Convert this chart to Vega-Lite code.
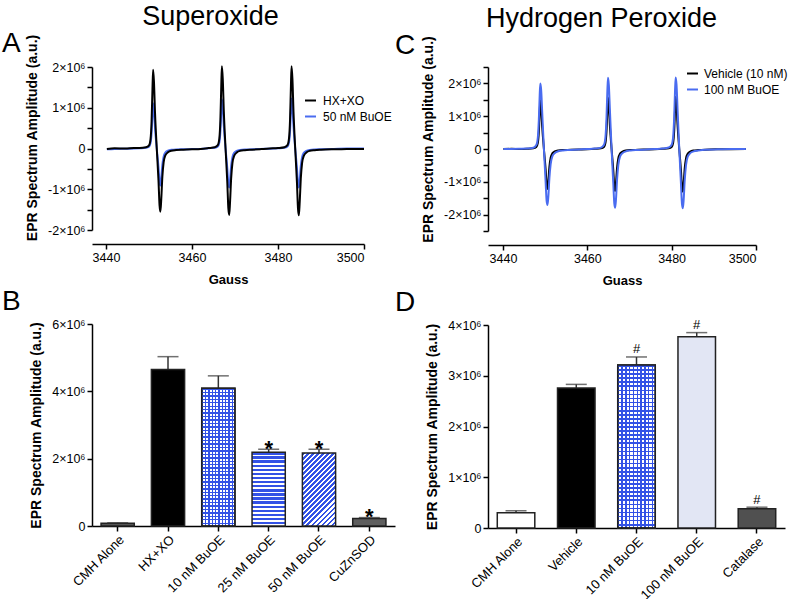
{
"$schema": "https://vega.github.io/schema/vega-lite/v6.json",
"padding": {"left": 2, "top": 3, "right": 0, "bottom": 0},
"datasets": {
"specA": [
{"series":"HX+XO","gauss":3440.2,"amp":-10000},{"series":"HX+XO","gauss":3442,"amp":5000},{"series":"HX+XO","gauss":3444.5,"amp":0},{"series":"HX+XO","gauss":3446.5,"amp":10000},
{"series":"HX+XO","gauss":3447.8,"amp":10000},{"series":"HX+XO","gauss":3449.3,"amp":29000},{"series":"HX+XO","gauss":3450.0,"amp":77000},{"series":"HX+XO","gauss":3450.35,"amp":232000},{"series":"HX+XO","gauss":3450.6,"amp":676000},{"series":"HX+XO","gauss":3450.8,"amp":1448000},{"series":"HX+XO","gauss":3450.95,"amp":1930000},{"series":"HX+XO","gauss":3451.15,"amp":1641000},{"series":"HX+XO","gauss":3451.4,"amp":869000},{"series":"HX+XO","gauss":3451.8,"amp":0},{"series":"HX+XO","gauss":3452.2,"amp":-775000},{"series":"HX+XO","gauss":3452.45,"amp":-1395000},{"series":"HX+XO","gauss":3452.65,"amp":-1550000},{"series":"HX+XO","gauss":3452.85,"amp":-1240000},{"series":"HX+XO","gauss":3453.1,"amp":-698000},{"series":"HX+XO","gauss":3453.4,"amp":-341000},{"series":"HX+XO","gauss":3453.8,"amp":-171000},{"series":"HX+XO","gauss":3454.4,"amp":-93000},{"series":"HX+XO","gauss":3455.2,"amp":-54000},{"series":"HX+XO","gauss":3456.3,"amp":-39000},
{"series":"HX+XO","gauss":3458,"amp":-30000},{"series":"HX+XO","gauss":3460,"amp":-20000},{"series":"HX+XO","gauss":3462,"amp":-10000},
{"series":"HX+XO","gauss":3463.8,"amp":10000},{"series":"HX+XO","gauss":3465.3,"amp":30000},{"series":"HX+XO","gauss":3466.0,"amp":81000},{"series":"HX+XO","gauss":3466.35,"amp":242000},{"series":"HX+XO","gauss":3466.6,"amp":707000},{"series":"HX+XO","gauss":3466.8,"amp":1515000},{"series":"HX+XO","gauss":3466.95,"amp":2020000},{"series":"HX+XO","gauss":3467.15,"amp":1717000},{"series":"HX+XO","gauss":3467.4,"amp":909000},{"series":"HX+XO","gauss":3467.8,"amp":0},{"series":"HX+XO","gauss":3468.2,"amp":-815000},{"series":"HX+XO","gauss":3468.45,"amp":-1467000},{"series":"HX+XO","gauss":3468.65,"amp":-1630000},{"series":"HX+XO","gauss":3468.85,"amp":-1304000},{"series":"HX+XO","gauss":3469.1,"amp":-734000},{"series":"HX+XO","gauss":3469.4,"amp":-359000},{"series":"HX+XO","gauss":3469.8,"amp":-179000},{"series":"HX+XO","gauss":3470.4,"amp":-98000},{"series":"HX+XO","gauss":3471.2,"amp":-57000},{"series":"HX+XO","gauss":3472.3,"amp":-41000},
{"series":"HX+XO","gauss":3474,"amp":-30000},{"series":"HX+XO","gauss":3476,"amp":-15000},{"series":"HX+XO","gauss":3478,"amp":0},
{"series":"HX+XO","gauss":3480.0,"amp":10000},{"series":"HX+XO","gauss":3481.5,"amp":30000},{"series":"HX+XO","gauss":3482.2,"amp":81000},{"series":"HX+XO","gauss":3482.55,"amp":242000},{"series":"HX+XO","gauss":3482.8,"amp":707000},{"series":"HX+XO","gauss":3483.0,"amp":1515000},{"series":"HX+XO","gauss":3483.15,"amp":2020000},{"series":"HX+XO","gauss":3483.35,"amp":1717000},{"series":"HX+XO","gauss":3483.6,"amp":909000},{"series":"HX+XO","gauss":3484.0,"amp":0},{"series":"HX+XO","gauss":3484.4,"amp":-820000},{"series":"HX+XO","gauss":3484.65,"amp":-1476000},{"series":"HX+XO","gauss":3484.85,"amp":-1640000},{"series":"HX+XO","gauss":3485.05,"amp":-1312000},{"series":"HX+XO","gauss":3485.3,"amp":-738000},{"series":"HX+XO","gauss":3485.6,"amp":-361000},{"series":"HX+XO","gauss":3486.0,"amp":-180000},{"series":"HX+XO","gauss":3486.6,"amp":-98000},{"series":"HX+XO","gauss":3487.4,"amp":-57000},{"series":"HX+XO","gauss":3488.5,"amp":-41000},
{"series":"HX+XO","gauss":3490,"amp":-30000},{"series":"HX+XO","gauss":3493,"amp":-20000},{"series":"HX+XO","gauss":3496,"amp":-15000},{"series":"HX+XO","gauss":3500,"amp":-10000},
{"series":"50 nM BuOE","gauss":3440.2,"amp":-20000},{"series":"50 nM BuOE","gauss":3442,"amp":-10000},{"series":"50 nM BuOE","gauss":3444.5,"amp":-5000},{"series":"50 nM BuOE","gauss":3446.5,"amp":0},
{"series":"50 nM BuOE","gauss":3447.8,"amp":6000},{"series":"50 nM BuOE","gauss":3449.3,"amp":17000},{"series":"50 nM BuOE","gauss":3450.0,"amp":44000},{"series":"50 nM BuOE","gauss":3450.35,"amp":133000},{"series":"50 nM BuOE","gauss":3450.6,"amp":389000},{"series":"50 nM BuOE","gauss":3450.8,"amp":833000},{"series":"50 nM BuOE","gauss":3450.95,"amp":1110000},{"series":"50 nM BuOE","gauss":3451.15,"amp":944000},{"series":"50 nM BuOE","gauss":3451.4,"amp":500000},{"series":"50 nM BuOE","gauss":3451.8,"amp":0},{"series":"50 nM BuOE","gauss":3452.2,"amp":-455000},{"series":"50 nM BuOE","gauss":3452.45,"amp":-819000},{"series":"50 nM BuOE","gauss":3452.65,"amp":-910000},{"series":"50 nM BuOE","gauss":3452.85,"amp":-728000},{"series":"50 nM BuOE","gauss":3453.1,"amp":-410000},{"series":"50 nM BuOE","gauss":3453.4,"amp":-200000},{"series":"50 nM BuOE","gauss":3453.8,"amp":-100000},{"series":"50 nM BuOE","gauss":3454.4,"amp":-55000},{"series":"50 nM BuOE","gauss":3455.2,"amp":-32000},{"series":"50 nM BuOE","gauss":3456.3,"amp":-23000},
{"series":"50 nM BuOE","gauss":3458,"amp":-20000},{"series":"50 nM BuOE","gauss":3460,"amp":-15000},{"series":"50 nM BuOE","gauss":3462,"amp":-10000},
{"series":"50 nM BuOE","gauss":3463.8,"amp":6000},{"series":"50 nM BuOE","gauss":3465.3,"amp":18000},{"series":"50 nM BuOE","gauss":3466.0,"amp":48000},{"series":"50 nM BuOE","gauss":3466.35,"amp":145000},{"series":"50 nM BuOE","gauss":3466.6,"amp":424000},{"series":"50 nM BuOE","gauss":3466.8,"amp":908000},{"series":"50 nM BuOE","gauss":3466.95,"amp":1210000},{"series":"50 nM BuOE","gauss":3467.15,"amp":1029000},{"series":"50 nM BuOE","gauss":3467.4,"amp":545000},{"series":"50 nM BuOE","gauss":3467.8,"amp":0},{"series":"50 nM BuOE","gauss":3468.2,"amp":-480000},{"series":"50 nM BuOE","gauss":3468.45,"amp":-864000},{"series":"50 nM BuOE","gauss":3468.65,"amp":-960000},{"series":"50 nM BuOE","gauss":3468.85,"amp":-768000},{"series":"50 nM BuOE","gauss":3469.1,"amp":-432000},{"series":"50 nM BuOE","gauss":3469.4,"amp":-211000},{"series":"50 nM BuOE","gauss":3469.8,"amp":-106000},{"series":"50 nM BuOE","gauss":3470.4,"amp":-58000},{"series":"50 nM BuOE","gauss":3471.2,"amp":-34000},{"series":"50 nM BuOE","gauss":3472.3,"amp":-24000},
{"series":"50 nM BuOE","gauss":3474,"amp":-20000},{"series":"50 nM BuOE","gauss":3476,"amp":-10000},{"series":"50 nM BuOE","gauss":3478,"amp":-5000},
{"series":"50 nM BuOE","gauss":3480.0,"amp":6000},{"series":"50 nM BuOE","gauss":3481.5,"amp":18000},{"series":"50 nM BuOE","gauss":3482.2,"amp":49000},{"series":"50 nM BuOE","gauss":3482.55,"amp":148000},{"series":"50 nM BuOE","gauss":3482.8,"amp":431000},{"series":"50 nM BuOE","gauss":3483.0,"amp":923000},{"series":"50 nM BuOE","gauss":3483.15,"amp":1230000},{"series":"50 nM BuOE","gauss":3483.35,"amp":1046000},{"series":"50 nM BuOE","gauss":3483.6,"amp":554000},{"series":"50 nM BuOE","gauss":3484.0,"amp":0},{"series":"50 nM BuOE","gauss":3484.4,"amp":-480000},{"series":"50 nM BuOE","gauss":3484.65,"amp":-864000},{"series":"50 nM BuOE","gauss":3484.85,"amp":-960000},{"series":"50 nM BuOE","gauss":3485.05,"amp":-768000},{"series":"50 nM BuOE","gauss":3485.3,"amp":-432000},{"series":"50 nM BuOE","gauss":3485.6,"amp":-211000},{"series":"50 nM BuOE","gauss":3486.0,"amp":-106000},{"series":"50 nM BuOE","gauss":3486.6,"amp":-58000},{"series":"50 nM BuOE","gauss":3487.4,"amp":-34000},{"series":"50 nM BuOE","gauss":3488.5,"amp":-24000},
{"series":"50 nM BuOE","gauss":3490,"amp":-20000},{"series":"50 nM BuOE","gauss":3493,"amp":-10000},{"series":"50 nM BuOE","gauss":3496,"amp":0},{"series":"50 nM BuOE","gauss":3500,"amp":0}
],
"specC": [
{"series":"Vehicle (10 nM)","gauss":3440.1,"amp":0},{"series":"Vehicle (10 nM)","gauss":3442,"amp":5000},{"series":"Vehicle (10 nM)","gauss":3444,"amp":0},
{"series":"Vehicle (10 nM)","gauss":3445.7,"amp":7000},{"series":"Vehicle (10 nM)","gauss":3447.2,"amp":22000},{"series":"Vehicle (10 nM)","gauss":3447.9,"amp":60000},{"series":"Vehicle (10 nM)","gauss":3448.25,"amp":179000},{"series":"Vehicle (10 nM)","gauss":3448.5,"amp":522000},{"series":"Vehicle (10 nM)","gauss":3448.7,"amp":1118000},{"series":"Vehicle (10 nM)","gauss":3448.85,"amp":1490000},{"series":"Vehicle (10 nM)","gauss":3449.05,"amp":1267000},{"series":"Vehicle (10 nM)","gauss":3449.3,"amp":671000},{"series":"Vehicle (10 nM)","gauss":3449.7,"amp":0},{"series":"Vehicle (10 nM)","gauss":3450.1,"amp":-610000},{"series":"Vehicle (10 nM)","gauss":3450.35,"amp":-1098000},{"series":"Vehicle (10 nM)","gauss":3450.55,"amp":-1220000},{"series":"Vehicle (10 nM)","gauss":3450.75,"amp":-976000},{"series":"Vehicle (10 nM)","gauss":3451.0,"amp":-549000},{"series":"Vehicle (10 nM)","gauss":3451.3,"amp":-268000},{"series":"Vehicle (10 nM)","gauss":3451.7,"amp":-134000},{"series":"Vehicle (10 nM)","gauss":3452.3,"amp":-73000},{"series":"Vehicle (10 nM)","gauss":3453.1,"amp":-43000},{"series":"Vehicle (10 nM)","gauss":3454.2,"amp":-31000},
{"series":"Vehicle (10 nM)","gauss":3456,"amp":-25000},{"series":"Vehicle (10 nM)","gauss":3458,"amp":-15000},{"series":"Vehicle (10 nM)","gauss":3460,"amp":-5000},
{"series":"Vehicle (10 nM)","gauss":3461.75,"amp":8000},{"series":"Vehicle (10 nM)","gauss":3463.25,"amp":24000},{"series":"Vehicle (10 nM)","gauss":3463.95,"amp":63000},{"series":"Vehicle (10 nM)","gauss":3464.3,"amp":188000},{"series":"Vehicle (10 nM)","gauss":3464.55,"amp":550000},{"series":"Vehicle (10 nM)","gauss":3464.75,"amp":1178000},{"series":"Vehicle (10 nM)","gauss":3464.9,"amp":1570000},{"series":"Vehicle (10 nM)","gauss":3465.1,"amp":1335000},{"series":"Vehicle (10 nM)","gauss":3465.35,"amp":707000},{"series":"Vehicle (10 nM)","gauss":3465.75,"amp":0},{"series":"Vehicle (10 nM)","gauss":3466.15,"amp":-640000},{"series":"Vehicle (10 nM)","gauss":3466.4,"amp":-1152000},{"series":"Vehicle (10 nM)","gauss":3466.6,"amp":-1280000},{"series":"Vehicle (10 nM)","gauss":3466.8,"amp":-1024000},{"series":"Vehicle (10 nM)","gauss":3467.05,"amp":-576000},{"series":"Vehicle (10 nM)","gauss":3467.35,"amp":-282000},{"series":"Vehicle (10 nM)","gauss":3467.75,"amp":-141000},{"series":"Vehicle (10 nM)","gauss":3468.35,"amp":-77000},{"series":"Vehicle (10 nM)","gauss":3469.15,"amp":-45000},{"series":"Vehicle (10 nM)","gauss":3470.25,"amp":-32000},
{"series":"Vehicle (10 nM)","gauss":3472,"amp":-25000},{"series":"Vehicle (10 nM)","gauss":3474,"amp":-15000},{"series":"Vehicle (10 nM)","gauss":3476,"amp":-5000},
{"series":"Vehicle (10 nM)","gauss":3477.8,"amp":8000},{"series":"Vehicle (10 nM)","gauss":3479.3,"amp":24000},{"series":"Vehicle (10 nM)","gauss":3480.0,"amp":64000},{"series":"Vehicle (10 nM)","gauss":3480.35,"amp":191000},{"series":"Vehicle (10 nM)","gauss":3480.6,"amp":557000},{"series":"Vehicle (10 nM)","gauss":3480.8,"amp":1193000},{"series":"Vehicle (10 nM)","gauss":3480.95,"amp":1590000},{"series":"Vehicle (10 nM)","gauss":3481.15,"amp":1352000},{"series":"Vehicle (10 nM)","gauss":3481.4,"amp":716000},{"series":"Vehicle (10 nM)","gauss":3481.8,"amp":0},{"series":"Vehicle (10 nM)","gauss":3482.2,"amp":-650000},{"series":"Vehicle (10 nM)","gauss":3482.45,"amp":-1170000},{"series":"Vehicle (10 nM)","gauss":3482.65,"amp":-1300000},{"series":"Vehicle (10 nM)","gauss":3482.85,"amp":-1040000},{"series":"Vehicle (10 nM)","gauss":3483.1,"amp":-585000},{"series":"Vehicle (10 nM)","gauss":3483.4,"amp":-286000},{"series":"Vehicle (10 nM)","gauss":3483.8,"amp":-143000},{"series":"Vehicle (10 nM)","gauss":3484.4,"amp":-78000},{"series":"Vehicle (10 nM)","gauss":3485.2,"amp":-46000},{"series":"Vehicle (10 nM)","gauss":3486.3,"amp":-33000},
{"series":"Vehicle (10 nM)","gauss":3488,"amp":-20000},{"series":"Vehicle (10 nM)","gauss":3491,"amp":-10000},{"series":"Vehicle (10 nM)","gauss":3494,"amp":-5000},{"series":"Vehicle (10 nM)","gauss":3497.6,"amp":0},
{"series":"100 nM BuOE","gauss":3440.1,"amp":0},{"series":"100 nM BuOE","gauss":3442,"amp":0},{"series":"100 nM BuOE","gauss":3444,"amp":5000},
{"series":"100 nM BuOE","gauss":3445.7,"amp":12000},{"series":"100 nM BuOE","gauss":3447.2,"amp":40000},{"series":"100 nM BuOE","gauss":3447.9,"amp":120000},{"series":"100 nM BuOE","gauss":3448.25,"amp":340000},{"series":"100 nM BuOE","gauss":3448.5,"amp":900000},{"series":"100 nM BuOE","gauss":3448.7,"amp":1640000},{"series":"100 nM BuOE","gauss":3448.85,"amp":2000000},{"series":"100 nM BuOE","gauss":3449.05,"amp":1800000},{"series":"100 nM BuOE","gauss":3449.3,"amp":1100000},{"series":"100 nM BuOE","gauss":3449.7,"amp":0},{"series":"100 nM BuOE","gauss":3450.1,"amp":-992000},{"series":"100 nM BuOE","gauss":3450.35,"amp":-1590000},{"series":"100 nM BuOE","gauss":3450.55,"amp":-1710000},{"series":"100 nM BuOE","gauss":3450.75,"amp":-1454000},{"series":"100 nM BuOE","gauss":3451.0,"amp":-889000},{"series":"100 nM BuOE","gauss":3451.3,"amp":-462000},{"series":"100 nM BuOE","gauss":3451.7,"amp":-222000},{"series":"100 nM BuOE","gauss":3452.3,"amp":-120000},{"series":"100 nM BuOE","gauss":3453.1,"amp":-68000},{"series":"100 nM BuOE","gauss":3454.2,"amp":-43000},
{"series":"100 nM BuOE","gauss":3456,"amp":-30000},{"series":"100 nM BuOE","gauss":3458,"amp":-15000},{"series":"100 nM BuOE","gauss":3460,"amp":0},
{"series":"100 nM BuOE","gauss":3461.75,"amp":13000},{"series":"100 nM BuOE","gauss":3463.25,"amp":43000},{"series":"100 nM BuOE","gauss":3463.95,"amp":130000},{"series":"100 nM BuOE","gauss":3464.3,"amp":369000},{"series":"100 nM BuOE","gauss":3464.55,"amp":977000},{"series":"100 nM BuOE","gauss":3464.75,"amp":1779000},{"series":"100 nM BuOE","gauss":3464.9,"amp":2170000},{"series":"100 nM BuOE","gauss":3465.1,"amp":1953000},{"series":"100 nM BuOE","gauss":3465.35,"amp":1194000},{"series":"100 nM BuOE","gauss":3465.75,"amp":0},{"series":"100 nM BuOE","gauss":3466.15,"amp":-1038000},{"series":"100 nM BuOE","gauss":3466.4,"amp":-1665000},{"series":"100 nM BuOE","gauss":3466.6,"amp":-1790000},{"series":"100 nM BuOE","gauss":3466.8,"amp":-1522000},{"series":"100 nM BuOE","gauss":3467.05,"amp":-931000},{"series":"100 nM BuOE","gauss":3467.35,"amp":-483000},{"series":"100 nM BuOE","gauss":3467.75,"amp":-233000},{"series":"100 nM BuOE","gauss":3468.35,"amp":-125000},{"series":"100 nM BuOE","gauss":3469.15,"amp":-72000},{"series":"100 nM BuOE","gauss":3470.25,"amp":-45000},
{"series":"100 nM BuOE","gauss":3472,"amp":-30000},{"series":"100 nM BuOE","gauss":3474,"amp":-15000},{"series":"100 nM BuOE","gauss":3476,"amp":0},
{"series":"100 nM BuOE","gauss":3477.8,"amp":13000},{"series":"100 nM BuOE","gauss":3479.3,"amp":44000},{"series":"100 nM BuOE","gauss":3480.0,"amp":131000},{"series":"100 nM BuOE","gauss":3480.35,"amp":371000},{"series":"100 nM BuOE","gauss":3480.6,"amp":981000},{"series":"100 nM BuOE","gauss":3480.8,"amp":1788000},{"series":"100 nM BuOE","gauss":3480.95,"amp":2180000},{"series":"100 nM BuOE","gauss":3481.15,"amp":1962000},{"series":"100 nM BuOE","gauss":3481.4,"amp":1199000},{"series":"100 nM BuOE","gauss":3481.8,"amp":0},{"series":"100 nM BuOE","gauss":3482.2,"amp":-1050000},{"series":"100 nM BuOE","gauss":3482.45,"amp":-1683000},{"series":"100 nM BuOE","gauss":3482.65,"amp":-1810000},{"series":"100 nM BuOE","gauss":3482.85,"amp":-1539000},{"series":"100 nM BuOE","gauss":3483.1,"amp":-941000},{"series":"100 nM BuOE","gauss":3483.4,"amp":-489000},{"series":"100 nM BuOE","gauss":3483.8,"amp":-235000},{"series":"100 nM BuOE","gauss":3484.4,"amp":-127000},{"series":"100 nM BuOE","gauss":3485.2,"amp":-72000},{"series":"100 nM BuOE","gauss":3486.3,"amp":-45000},
{"series":"100 nM BuOE","gauss":3488,"amp":-20000},{"series":"100 nM BuOE","gauss":3491,"amp":-10000},{"series":"100 nM BuOE","gauss":3494,"amp":0},{"series":"100 nM BuOE","gauss":3497.6,"amp":0}
],
"barsB": [
{"cond":"CMH Alone","mean":80000,"upper":95000,"sig":null},
{"cond":"HX+XO","mean":4650000,"upper":5030000,"sig":null},
{"cond":"10 nM BuOE","mean":4090000,"upper":4460000,"sig":null},
{"cond":"25 nM BuOE","mean":2190000,"upper":2280000,"sig":"*"},
{"cond":"50 nM BuOE","mean":2170000,"upper":2280000,"sig":"*"},
{"cond":"CuZnSOD","mean":220000,"upper":250000,"sig":"*"}
],
"barsD": [
{"cond":"CMH Alone","mean":300000,"upper":340000,"sig":null},
{"cond":"Vehicle","mean":2760000,"upper":2830000,"sig":null},
{"cond":"10 nM BuOE","mean":3210000,"upper":3370000,"sig":"#"},
{"cond":"100 nM BuOE","mean":3770000,"upper":3850000,"sig":"#"},
{"cond":"Catalase","mean":380000,"upper":410000,"sig":"#"}
]
},
"hconcat": [
{
"title": {"text": "Superoxide", "fontSize": 27, "anchor": "middle", "offset": -1, "dx": 12},
"spacing": 1,
"vconcat": [
{
"width": 272, "height": 163,
"title": {"text": "A", "anchor": "start", "frame": "group", "dx": -90, "fontSize": 28, "offset": -24},
"data": {"name": "specA"},
"encoding": {
"x": {"field": "gauss", "type": "quantitative", "scale": {"domain": [3436.74, 3500], "nice": false, "zero": false}, "axis": {"title": "Gauss", "values": [3440, 3460, 3480, 3500], "format": "d", "offset": 14, "titleFontSize": 13, "titlePadding": 10}},
"y": {"field": "amp", "type": "quantitative", "scale": {"domain": [-2000000, 2000000], "nice": false}, "axis": {"title": "EPR Spectrum Amplitude (a.u.)", "titleY": 70.5, "values": [-2000000,-1500000,-1000000,-500000,0,500000,1000000,1500000,2000000], "labelExpr": "datum.value == 0 ? '0' : (datum.value % 1000000 != 0 ? '' : (datum.value / 1000000) + '×10⁶')", "titlePadding": 8}},
"color": {"field": "series", "type": "nominal", "scale": {"domain": ["HX+XO", "50 nM BuOE"], "range": ["#000000", "#4a6cf0"]}, "legend": {"title": null, "orient": "none", "legendX": 212, "legendY": 27}}
},
"layer": [
{"transform": [{"filter": "datum.series == '50 nM BuOE'"}], "mark": {"type": "line", "interpolate": "monotone", "strokeWidth": 2}},
{"transform": [{"filter": "datum.series == 'HX+XO'"}], "mark": {"type": "line", "interpolate": "monotone", "strokeWidth": 2}}
]
},
{
"width": 303, "height": 202,
"title": {"text": "B", "anchor": "start", "frame": "group", "dx": -90, "fontSize": 28, "offset": 2},
"data": {"name": "barsB"},
"encoding": {
"x": {"field": "cond", "type": "nominal", "sort": null, "scale": {"paddingInner": 0.34, "paddingOuter": 0.18}, "axis": {"title": null, "labelAngle": -45, "labelFontSize": 13}}
},
"layer": [
{"mark": {"type": "rule", "strokeWidth": 1.5, "color": "#333333"}, "encoding": {"y": {"field": "mean", "type": "quantitative", "title": "EPR Spectrum Amplitude (a.u.)"}, "y2": {"field": "upper"}}},
{"mark": {"type": "bar", "stroke": "#222222", "strokeWidth": 1.5}, "encoding": {
"y": {"field": "mean", "type": "quantitative", "title": "EPR Spectrum Amplitude (a.u.)", "scale": {"domain": [0, 6000000], "nice": false}, "axis": {"values": [0,1000000,2000000,3000000,4000000,5000000,6000000], "labelExpr": "datum.value == 0 ? '0' : (datum.value / 1000000) + '×10⁶'", "titlePadding": 8}},
"fill": {
"condition": [
{"test": "datum.cond == '10 nM BuOE'", "value": {"gradient": "linear", "x1": 0, "y1": 0, "x2": 1, "y2": 0, "stops": [
{"offset":0,"color":"#3352e6"},{"offset":0.04,"color":"#3352e6"},{"offset":0.04,"color":"#ffffff"},{"offset":0.1,"color":"#ffffff"},
{"offset":0.1,"color":"#3352e6"},{"offset":0.14,"color":"#3352e6"},{"offset":0.14,"color":"#ffffff"},{"offset":0.2,"color":"#ffffff"},
{"offset":0.2,"color":"#3352e6"},{"offset":0.24,"color":"#3352e6"},{"offset":0.24,"color":"#ffffff"},{"offset":0.3,"color":"#ffffff"},
{"offset":0.3,"color":"#3352e6"},{"offset":0.34,"color":"#3352e6"},{"offset":0.34,"color":"#ffffff"},{"offset":0.4,"color":"#ffffff"},
{"offset":0.4,"color":"#3352e6"},{"offset":0.44,"color":"#3352e6"},{"offset":0.44,"color":"#ffffff"},{"offset":0.5,"color":"#ffffff"},
{"offset":0.5,"color":"#3352e6"},{"offset":0.54,"color":"#3352e6"},{"offset":0.54,"color":"#ffffff"},{"offset":0.6,"color":"#ffffff"},
{"offset":0.6,"color":"#3352e6"},{"offset":0.64,"color":"#3352e6"},{"offset":0.64,"color":"#ffffff"},{"offset":0.7,"color":"#ffffff"},
{"offset":0.7,"color":"#3352e6"},{"offset":0.74,"color":"#3352e6"},{"offset":0.74,"color":"#ffffff"},{"offset":0.8,"color":"#ffffff"},
{"offset":0.8,"color":"#3352e6"},{"offset":0.84,"color":"#3352e6"},{"offset":0.84,"color":"#ffffff"},{"offset":0.9,"color":"#ffffff"},
{"offset":0.9,"color":"#3352e6"},{"offset":0.94,"color":"#3352e6"},{"offset":0.94,"color":"#ffffff"},{"offset":1,"color":"#ffffff"}]}},
{"test": "datum.cond == '25 nM BuOE'", "value": {"gradient": "linear", "x1": 0, "y1": 0, "x2": 0, "y2": 1, "stops": [
{"offset":0,"color":"#3352e6"},{"offset":0.0333,"color":"#3352e6"},{"offset":0.0333,"color":"#ffffff"},{"offset":0.0556,"color":"#ffffff"},
{"offset":0.0556,"color":"#3352e6"},{"offset":0.0889,"color":"#3352e6"},{"offset":0.0889,"color":"#ffffff"},{"offset":0.1111,"color":"#ffffff"},
{"offset":0.1111,"color":"#3352e6"},{"offset":0.1444,"color":"#3352e6"},{"offset":0.1444,"color":"#ffffff"},{"offset":0.1667,"color":"#ffffff"},
{"offset":0.1667,"color":"#3352e6"},{"offset":0.2,"color":"#3352e6"},{"offset":0.2,"color":"#ffffff"},{"offset":0.2222,"color":"#ffffff"},
{"offset":0.2222,"color":"#3352e6"},{"offset":0.2556,"color":"#3352e6"},{"offset":0.2556,"color":"#ffffff"},{"offset":0.2778,"color":"#ffffff"},
{"offset":0.2778,"color":"#3352e6"},{"offset":0.3111,"color":"#3352e6"},{"offset":0.3111,"color":"#ffffff"},{"offset":0.3333,"color":"#ffffff"},
{"offset":0.3333,"color":"#3352e6"},{"offset":0.3667,"color":"#3352e6"},{"offset":0.3667,"color":"#ffffff"},{"offset":0.3889,"color":"#ffffff"},
{"offset":0.3889,"color":"#3352e6"},{"offset":0.4222,"color":"#3352e6"},{"offset":0.4222,"color":"#ffffff"},{"offset":0.4444,"color":"#ffffff"},
{"offset":0.4444,"color":"#3352e6"},{"offset":0.4778,"color":"#3352e6"},{"offset":0.4778,"color":"#ffffff"},{"offset":0.5,"color":"#ffffff"},
{"offset":0.5,"color":"#3352e6"},{"offset":0.5333,"color":"#3352e6"},{"offset":0.5333,"color":"#ffffff"},{"offset":0.5556,"color":"#ffffff"},
{"offset":0.5556,"color":"#3352e6"},{"offset":0.5889,"color":"#3352e6"},{"offset":0.5889,"color":"#ffffff"},{"offset":0.6111,"color":"#ffffff"},
{"offset":0.6111,"color":"#3352e6"},{"offset":0.6444,"color":"#3352e6"},{"offset":0.6444,"color":"#ffffff"},{"offset":0.6667,"color":"#ffffff"},
{"offset":0.6667,"color":"#3352e6"},{"offset":0.7,"color":"#3352e6"},{"offset":0.7,"color":"#ffffff"},{"offset":0.7222,"color":"#ffffff"},
{"offset":0.7222,"color":"#3352e6"},{"offset":0.7556,"color":"#3352e6"},{"offset":0.7556,"color":"#ffffff"},{"offset":0.7778,"color":"#ffffff"},
{"offset":0.7778,"color":"#3352e6"},{"offset":0.8111,"color":"#3352e6"},{"offset":0.8111,"color":"#ffffff"},{"offset":0.8333,"color":"#ffffff"},
{"offset":0.8333,"color":"#3352e6"},{"offset":0.8667,"color":"#3352e6"},{"offset":0.8667,"color":"#ffffff"},{"offset":0.8889,"color":"#ffffff"},
{"offset":0.8889,"color":"#3352e6"},{"offset":0.9222,"color":"#3352e6"},{"offset":0.9222,"color":"#ffffff"},{"offset":0.9444,"color":"#ffffff"},
{"offset":0.9444,"color":"#3352e6"},{"offset":0.9778,"color":"#3352e6"},{"offset":0.9778,"color":"#ffffff"},{"offset":1,"color":"#ffffff"}]}},
{"test": "datum.cond == '50 nM BuOE'", "value": {"gradient": "linear", "x1": 0, "y1": 0, "x2": 1, "y2": 2.2, "stops": [
{"offset":0,"color":"#3352e6"},{"offset":0.0143,"color":"#3352e6"},{"offset":0.0143,"color":"#ffffff"},{"offset":0.026,"color":"#ffffff"},
{"offset":0.026,"color":"#3352e6"},{"offset":0.0403,"color":"#3352e6"},{"offset":0.0403,"color":"#ffffff"},{"offset":0.052,"color":"#ffffff"},
{"offset":0.052,"color":"#3352e6"},{"offset":0.0663,"color":"#3352e6"},{"offset":0.0663,"color":"#ffffff"},{"offset":0.078,"color":"#ffffff"},
{"offset":0.078,"color":"#3352e6"},{"offset":0.0923,"color":"#3352e6"},{"offset":0.0923,"color":"#ffffff"},{"offset":0.104,"color":"#ffffff"},
{"offset":0.104,"color":"#3352e6"},{"offset":0.1183,"color":"#3352e6"},{"offset":0.1183,"color":"#ffffff"},{"offset":0.13,"color":"#ffffff"},
{"offset":0.13,"color":"#3352e6"},{"offset":0.1443,"color":"#3352e6"},{"offset":0.1443,"color":"#ffffff"},{"offset":0.156,"color":"#ffffff"},
{"offset":0.156,"color":"#3352e6"},{"offset":0.1703,"color":"#3352e6"},{"offset":0.1703,"color":"#ffffff"},{"offset":0.182,"color":"#ffffff"},
{"offset":0.182,"color":"#3352e6"},{"offset":0.1963,"color":"#3352e6"},{"offset":0.1963,"color":"#ffffff"},{"offset":0.208,"color":"#ffffff"},
{"offset":0.208,"color":"#3352e6"},{"offset":0.2223,"color":"#3352e6"},{"offset":0.2223,"color":"#ffffff"},{"offset":0.234,"color":"#ffffff"},
{"offset":0.234,"color":"#3352e6"},{"offset":0.2483,"color":"#3352e6"},{"offset":0.2483,"color":"#ffffff"},{"offset":0.26,"color":"#ffffff"},
{"offset":0.26,"color":"#3352e6"},{"offset":0.2743,"color":"#3352e6"},{"offset":0.2743,"color":"#ffffff"},{"offset":0.286,"color":"#ffffff"},
{"offset":0.286,"color":"#3352e6"},{"offset":0.3003,"color":"#3352e6"},{"offset":0.3003,"color":"#ffffff"},{"offset":0.312,"color":"#ffffff"},
{"offset":0.312,"color":"#3352e6"},{"offset":0.3263,"color":"#3352e6"},{"offset":0.3263,"color":"#ffffff"},{"offset":0.338,"color":"#ffffff"},
{"offset":0.338,"color":"#3352e6"},{"offset":0.3523,"color":"#3352e6"},{"offset":0.3523,"color":"#ffffff"},{"offset":0.364,"color":"#ffffff"},
{"offset":0.364,"color":"#3352e6"},{"offset":0.3783,"color":"#3352e6"},{"offset":0.3783,"color":"#ffffff"},{"offset":0.39,"color":"#ffffff"},
{"offset":0.39,"color":"#3352e6"},{"offset":0.4043,"color":"#3352e6"},{"offset":0.4043,"color":"#ffffff"},{"offset":0.416,"color":"#ffffff"},
{"offset":0.416,"color":"#3352e6"},{"offset":0.4303,"color":"#3352e6"},{"offset":0.4303,"color":"#ffffff"},{"offset":0.442,"color":"#ffffff"},
{"offset":0.442,"color":"#3352e6"},{"offset":0.4563,"color":"#3352e6"},{"offset":0.4563,"color":"#ffffff"},{"offset":0.468,"color":"#ffffff"},
{"offset":0.468,"color":"#3352e6"},{"offset":0.4823,"color":"#3352e6"},{"offset":0.4823,"color":"#ffffff"},{"offset":0.494,"color":"#ffffff"},
{"offset":0.494,"color":"#3352e6"},{"offset":0.5083,"color":"#3352e6"},{"offset":0.5083,"color":"#ffffff"},{"offset":0.52,"color":"#ffffff"},
{"offset":0.52,"color":"#3352e6"},{"offset":0.5343,"color":"#3352e6"},{"offset":0.5343,"color":"#ffffff"},{"offset":0.546,"color":"#ffffff"},
{"offset":0.546,"color":"#3352e6"},{"offset":0.5603,"color":"#3352e6"},{"offset":0.5603,"color":"#ffffff"},{"offset":0.572,"color":"#ffffff"}]}}
],
"field": "cond", "type": "nominal", "legend": null, "scale": {"domain": ["CMH Alone","HX+XO","10 nM BuOE","25 nM BuOE","50 nM BuOE","CuZnSOD"], "range": ["#555555","#000000","#5f77e8","#8c9df0","#8c9df0","#5e5e5e"]}}
}},
{"transform": [{"filter": "datum.cond == '10 nM BuOE'"}], "mark": {"type": "bar", "stroke": "#222222", "strokeWidth": 1.5, "fill": {"gradient": "linear", "x1": 0, "y1": 0, "x2": 0, "y2": 1, "stops": [
{"offset":0,"color":"#3352e6"},{"offset":0.01,"color":"#3352e6"},{"offset":0.01,"color":"rgba(255,255,255,0)"},{"offset":0.025,"color":"rgba(255,255,255,0)"},
{"offset":0.025,"color":"#3352e6"},{"offset":0.035,"color":"#3352e6"},{"offset":0.035,"color":"rgba(255,255,255,0)"},{"offset":0.05,"color":"rgba(255,255,255,0)"},
{"offset":0.05,"color":"#3352e6"},{"offset":0.06,"color":"#3352e6"},{"offset":0.06,"color":"rgba(255,255,255,0)"},{"offset":0.075,"color":"rgba(255,255,255,0)"},
{"offset":0.075,"color":"#3352e6"},{"offset":0.085,"color":"#3352e6"},{"offset":0.085,"color":"rgba(255,255,255,0)"},{"offset":0.1,"color":"rgba(255,255,255,0)"},
{"offset":0.1,"color":"#3352e6"},{"offset":0.11,"color":"#3352e6"},{"offset":0.11,"color":"rgba(255,255,255,0)"},{"offset":0.125,"color":"rgba(255,255,255,0)"},
{"offset":0.125,"color":"#3352e6"},{"offset":0.135,"color":"#3352e6"},{"offset":0.135,"color":"rgba(255,255,255,0)"},{"offset":0.15,"color":"rgba(255,255,255,0)"},
{"offset":0.15,"color":"#3352e6"},{"offset":0.16,"color":"#3352e6"},{"offset":0.16,"color":"rgba(255,255,255,0)"},{"offset":0.175,"color":"rgba(255,255,255,0)"},
{"offset":0.175,"color":"#3352e6"},{"offset":0.185,"color":"#3352e6"},{"offset":0.185,"color":"rgba(255,255,255,0)"},{"offset":0.2,"color":"rgba(255,255,255,0)"},
{"offset":0.2,"color":"#3352e6"},{"offset":0.21,"color":"#3352e6"},{"offset":0.21,"color":"rgba(255,255,255,0)"},{"offset":0.225,"color":"rgba(255,255,255,0)"},
{"offset":0.225,"color":"#3352e6"},{"offset":0.235,"color":"#3352e6"},{"offset":0.235,"color":"rgba(255,255,255,0)"},{"offset":0.25,"color":"rgba(255,255,255,0)"},
{"offset":0.25,"color":"#3352e6"},{"offset":0.26,"color":"#3352e6"},{"offset":0.26,"color":"rgba(255,255,255,0)"},{"offset":0.275,"color":"rgba(255,255,255,0)"},
{"offset":0.275,"color":"#3352e6"},{"offset":0.285,"color":"#3352e6"},{"offset":0.285,"color":"rgba(255,255,255,0)"},{"offset":0.3,"color":"rgba(255,255,255,0)"},
{"offset":0.3,"color":"#3352e6"},{"offset":0.31,"color":"#3352e6"},{"offset":0.31,"color":"rgba(255,255,255,0)"},{"offset":0.325,"color":"rgba(255,255,255,0)"},
{"offset":0.325,"color":"#3352e6"},{"offset":0.335,"color":"#3352e6"},{"offset":0.335,"color":"rgba(255,255,255,0)"},{"offset":0.35,"color":"rgba(255,255,255,0)"},
{"offset":0.35,"color":"#3352e6"},{"offset":0.36,"color":"#3352e6"},{"offset":0.36,"color":"rgba(255,255,255,0)"},{"offset":0.375,"color":"rgba(255,255,255,0)"},
{"offset":0.375,"color":"#3352e6"},{"offset":0.385,"color":"#3352e6"},{"offset":0.385,"color":"rgba(255,255,255,0)"},{"offset":0.4,"color":"rgba(255,255,255,0)"},
{"offset":0.4,"color":"#3352e6"},{"offset":0.41,"color":"#3352e6"},{"offset":0.41,"color":"rgba(255,255,255,0)"},{"offset":0.425,"color":"rgba(255,255,255,0)"},
{"offset":0.425,"color":"#3352e6"},{"offset":0.435,"color":"#3352e6"},{"offset":0.435,"color":"rgba(255,255,255,0)"},{"offset":0.45,"color":"rgba(255,255,255,0)"},
{"offset":0.45,"color":"#3352e6"},{"offset":0.46,"color":"#3352e6"},{"offset":0.46,"color":"rgba(255,255,255,0)"},{"offset":0.475,"color":"rgba(255,255,255,0)"},
{"offset":0.475,"color":"#3352e6"},{"offset":0.485,"color":"#3352e6"},{"offset":0.485,"color":"rgba(255,255,255,0)"},{"offset":0.5,"color":"rgba(255,255,255,0)"},
{"offset":0.5,"color":"#3352e6"},{"offset":0.51,"color":"#3352e6"},{"offset":0.51,"color":"rgba(255,255,255,0)"},{"offset":0.525,"color":"rgba(255,255,255,0)"},
{"offset":0.525,"color":"#3352e6"},{"offset":0.535,"color":"#3352e6"},{"offset":0.535,"color":"rgba(255,255,255,0)"},{"offset":0.55,"color":"rgba(255,255,255,0)"},
{"offset":0.55,"color":"#3352e6"},{"offset":0.56,"color":"#3352e6"},{"offset":0.56,"color":"rgba(255,255,255,0)"},{"offset":0.575,"color":"rgba(255,255,255,0)"},
{"offset":0.575,"color":"#3352e6"},{"offset":0.585,"color":"#3352e6"},{"offset":0.585,"color":"rgba(255,255,255,0)"},{"offset":0.6,"color":"rgba(255,255,255,0)"},
{"offset":0.6,"color":"#3352e6"},{"offset":0.61,"color":"#3352e6"},{"offset":0.61,"color":"rgba(255,255,255,0)"},{"offset":0.625,"color":"rgba(255,255,255,0)"},
{"offset":0.625,"color":"#3352e6"},{"offset":0.635,"color":"#3352e6"},{"offset":0.635,"color":"rgba(255,255,255,0)"},{"offset":0.65,"color":"rgba(255,255,255,0)"},
{"offset":0.65,"color":"#3352e6"},{"offset":0.66,"color":"#3352e6"},{"offset":0.66,"color":"rgba(255,255,255,0)"},{"offset":0.675,"color":"rgba(255,255,255,0)"},
{"offset":0.675,"color":"#3352e6"},{"offset":0.685,"color":"#3352e6"},{"offset":0.685,"color":"rgba(255,255,255,0)"},{"offset":0.7,"color":"rgba(255,255,255,0)"},
{"offset":0.7,"color":"#3352e6"},{"offset":0.71,"color":"#3352e6"},{"offset":0.71,"color":"rgba(255,255,255,0)"},{"offset":0.725,"color":"rgba(255,255,255,0)"},
{"offset":0.725,"color":"#3352e6"},{"offset":0.735,"color":"#3352e6"},{"offset":0.735,"color":"rgba(255,255,255,0)"},{"offset":0.75,"color":"rgba(255,255,255,0)"},
{"offset":0.75,"color":"#3352e6"},{"offset":0.76,"color":"#3352e6"},{"offset":0.76,"color":"rgba(255,255,255,0)"},{"offset":0.775,"color":"rgba(255,255,255,0)"},
{"offset":0.775,"color":"#3352e6"},{"offset":0.785,"color":"#3352e6"},{"offset":0.785,"color":"rgba(255,255,255,0)"},{"offset":0.8,"color":"rgba(255,255,255,0)"},
{"offset":0.8,"color":"#3352e6"},{"offset":0.81,"color":"#3352e6"},{"offset":0.81,"color":"rgba(255,255,255,0)"},{"offset":0.825,"color":"rgba(255,255,255,0)"},
{"offset":0.825,"color":"#3352e6"},{"offset":0.835,"color":"#3352e6"},{"offset":0.835,"color":"rgba(255,255,255,0)"},{"offset":0.85,"color":"rgba(255,255,255,0)"},
{"offset":0.85,"color":"#3352e6"},{"offset":0.86,"color":"#3352e6"},{"offset":0.86,"color":"rgba(255,255,255,0)"},{"offset":0.875,"color":"rgba(255,255,255,0)"},
{"offset":0.875,"color":"#3352e6"},{"offset":0.885,"color":"#3352e6"},{"offset":0.885,"color":"rgba(255,255,255,0)"},{"offset":0.9,"color":"rgba(255,255,255,0)"},
{"offset":0.9,"color":"#3352e6"},{"offset":0.91,"color":"#3352e6"},{"offset":0.91,"color":"rgba(255,255,255,0)"},{"offset":0.925,"color":"rgba(255,255,255,0)"},
{"offset":0.925,"color":"#3352e6"},{"offset":0.935,"color":"#3352e6"},{"offset":0.935,"color":"rgba(255,255,255,0)"},{"offset":0.95,"color":"rgba(255,255,255,0)"},
{"offset":0.95,"color":"#3352e6"},{"offset":0.96,"color":"#3352e6"},{"offset":0.96,"color":"rgba(255,255,255,0)"},{"offset":0.975,"color":"rgba(255,255,255,0)"},
{"offset":0.975,"color":"#3352e6"},{"offset":0.985,"color":"#3352e6"},{"offset":0.985,"color":"rgba(255,255,255,0)"},{"offset":1,"color":"rgba(255,255,255,0)"}]}},
"encoding": {"y": {"field": "mean", "type": "quantitative", "title": "EPR Spectrum Amplitude (a.u.)"}}},
{"mark": {"type": "tick", "size": 21, "thickness": 1.5, "color": "#333333"}, "encoding": {"y": {"field": "upper", "type": "quantitative", "title": "EPR Spectrum Amplitude (a.u.)"}}},
{"transform": [{"filter": "datum.sig != null"}], "mark": {"type": "text", "fontSize": 22, "fontWeight": "bold", "baseline": "alphabetic", "dy": 6.5, "color": "#000000"}, "encoding": {"y": {"field": "upper", "type": "quantitative", "title": "EPR Spectrum Amplitude (a.u.)"}, "text": {"field": "sig"}}}
]
}
]
},
{
"title": {"text": "Hydrogen Peroxide", "fontSize": 27, "anchor": "middle", "offset": -1, "dx": 10},
"spacing": 1,
"vconcat": [
{
"width": 268, "height": 164,
"title": {"text": "C", "anchor": "start", "frame": "group", "dx": -93, "fontSize": 28, "offset": -24},
"data": {"name": "specC"},
"encoding": {
"x": {"field": "gauss", "type": "quantitative", "scale": {"domain": [3436.44, 3500], "nice": false, "zero": false}, "axis": {"title": "Guass", "values": [3440, 3460, 3480, 3500], "format": "d", "offset": 14, "titleFontSize": 13, "titlePadding": 10}},
"y": {"field": "amp", "type": "quantitative", "scale": {"domain": [-2500000, 2500000], "nice": false}, "axis": {"title": "EPR Spectrum Amplitude (a.u.)", "titleY": 72, "values": [-2500000,-2000000,-1500000,-1000000,-500000,0,500000,1000000,1500000,2000000,2500000], "labelExpr": "datum.value == 0 ? '0' : (datum.value % 1000000 != 0 ? '' : (datum.value / 1000000) + '×10⁶')", "titlePadding": 8}},
"color": {"field": "series", "type": "nominal", "scale": {"domain": ["Vehicle (10 nM)", "100 nM BuOE"], "range": ["#000000", "#4a6cf0"]}, "legend": {"title": null, "orient": "none", "legendX": 198, "legendY": 0, "labelOffset": 5}}
},
"layer": [
{"transform": [{"filter": "datum.series == 'Vehicle (10 nM)'"}], "mark": {"type": "line", "interpolate": "monotone", "strokeWidth": 2}},
{"transform": [{"filter": "datum.series == '100 nM BuOE'"}], "mark": {"type": "line", "interpolate": "monotone", "strokeWidth": 2}}
]
},
{
"width": 297, "height": 203,
"title": {"text": "D", "anchor": "start", "frame": "group", "dx": -93, "fontSize": 28, "offset": 2},
"data": {"name": "barsD"},
"encoding": {
"x": {"field": "cond", "type": "nominal", "sort": null, "scale": {"paddingInner": 0.377, "paddingOuter": 0.154}, "axis": {"title": null, "labelAngle": -45, "labelFontSize": 13}}
},
"layer": [
{"mark": {"type": "rule", "strokeWidth": 1.5, "color": "#333333"}, "encoding": {"y": {"field": "mean", "type": "quantitative", "title": "EPR Spectrum Amplitude (a.u.)"}, "y2": {"field": "upper"}}},
{"mark": {"type": "bar", "stroke": "#222222", "strokeWidth": 1.5}, "encoding": {
"y": {"field": "mean", "type": "quantitative", "title": "EPR Spectrum Amplitude (a.u.)", "scale": {"domain": [0, 4000000], "nice": false}, "axis": {"values": [0,1000000,2000000,3000000,4000000], "labelExpr": "datum.value == 0 ? '0' : (datum.value / 1000000) + '×10⁶'", "titlePadding": 8}},
"fill": {
"condition": [
{"test": "datum.cond == '10 nM BuOE'", "value": {"gradient": "linear", "x1": 0, "y1": 0, "x2": 1, "y2": 0, "stops": [
{"offset":0,"color":"#3352e6"},{"offset":0.04,"color":"#3352e6"},{"offset":0.04,"color":"#ffffff"},{"offset":0.1,"color":"#ffffff"},
{"offset":0.1,"color":"#3352e6"},{"offset":0.14,"color":"#3352e6"},{"offset":0.14,"color":"#ffffff"},{"offset":0.2,"color":"#ffffff"},
{"offset":0.2,"color":"#3352e6"},{"offset":0.24,"color":"#3352e6"},{"offset":0.24,"color":"#ffffff"},{"offset":0.3,"color":"#ffffff"},
{"offset":0.3,"color":"#3352e6"},{"offset":0.34,"color":"#3352e6"},{"offset":0.34,"color":"#ffffff"},{"offset":0.4,"color":"#ffffff"},
{"offset":0.4,"color":"#3352e6"},{"offset":0.44,"color":"#3352e6"},{"offset":0.44,"color":"#ffffff"},{"offset":0.5,"color":"#ffffff"},
{"offset":0.5,"color":"#3352e6"},{"offset":0.54,"color":"#3352e6"},{"offset":0.54,"color":"#ffffff"},{"offset":0.6,"color":"#ffffff"},
{"offset":0.6,"color":"#3352e6"},{"offset":0.64,"color":"#3352e6"},{"offset":0.64,"color":"#ffffff"},{"offset":0.7,"color":"#ffffff"},
{"offset":0.7,"color":"#3352e6"},{"offset":0.74,"color":"#3352e6"},{"offset":0.74,"color":"#ffffff"},{"offset":0.8,"color":"#ffffff"},
{"offset":0.8,"color":"#3352e6"},{"offset":0.84,"color":"#3352e6"},{"offset":0.84,"color":"#ffffff"},{"offset":0.9,"color":"#ffffff"},
{"offset":0.9,"color":"#3352e6"},{"offset":0.94,"color":"#3352e6"},{"offset":0.94,"color":"#ffffff"},{"offset":1,"color":"#ffffff"}]}}
],
"field": "cond", "type": "nominal", "legend": null, "scale": {"domain": ["CMH Alone","Vehicle","10 nM BuOE","100 nM BuOE","Catalase"], "range": ["#ffffff","#000000","#5f77e8","#e2e6f4","#505050"]}}
}},
{"transform": [{"filter": "datum.cond == '10 nM BuOE'"}], "mark": {"type": "bar", "stroke": "#222222", "strokeWidth": 1.5, "fill": {"gradient": "linear", "x1": 0, "y1": 0, "x2": 0, "y2": 1, "stops": [
{"offset":0,"color":"#3352e6"},{"offset":0.01,"color":"#3352e6"},{"offset":0.01,"color":"rgba(255,255,255,0)"},{"offset":0.025,"color":"rgba(255,255,255,0)"},
{"offset":0.025,"color":"#3352e6"},{"offset":0.035,"color":"#3352e6"},{"offset":0.035,"color":"rgba(255,255,255,0)"},{"offset":0.05,"color":"rgba(255,255,255,0)"},
{"offset":0.05,"color":"#3352e6"},{"offset":0.06,"color":"#3352e6"},{"offset":0.06,"color":"rgba(255,255,255,0)"},{"offset":0.075,"color":"rgba(255,255,255,0)"},
{"offset":0.075,"color":"#3352e6"},{"offset":0.085,"color":"#3352e6"},{"offset":0.085,"color":"rgba(255,255,255,0)"},{"offset":0.1,"color":"rgba(255,255,255,0)"},
{"offset":0.1,"color":"#3352e6"},{"offset":0.11,"color":"#3352e6"},{"offset":0.11,"color":"rgba(255,255,255,0)"},{"offset":0.125,"color":"rgba(255,255,255,0)"},
{"offset":0.125,"color":"#3352e6"},{"offset":0.135,"color":"#3352e6"},{"offset":0.135,"color":"rgba(255,255,255,0)"},{"offset":0.15,"color":"rgba(255,255,255,0)"},
{"offset":0.15,"color":"#3352e6"},{"offset":0.16,"color":"#3352e6"},{"offset":0.16,"color":"rgba(255,255,255,0)"},{"offset":0.175,"color":"rgba(255,255,255,0)"},
{"offset":0.175,"color":"#3352e6"},{"offset":0.185,"color":"#3352e6"},{"offset":0.185,"color":"rgba(255,255,255,0)"},{"offset":0.2,"color":"rgba(255,255,255,0)"},
{"offset":0.2,"color":"#3352e6"},{"offset":0.21,"color":"#3352e6"},{"offset":0.21,"color":"rgba(255,255,255,0)"},{"offset":0.225,"color":"rgba(255,255,255,0)"},
{"offset":0.225,"color":"#3352e6"},{"offset":0.235,"color":"#3352e6"},{"offset":0.235,"color":"rgba(255,255,255,0)"},{"offset":0.25,"color":"rgba(255,255,255,0)"},
{"offset":0.25,"color":"#3352e6"},{"offset":0.26,"color":"#3352e6"},{"offset":0.26,"color":"rgba(255,255,255,0)"},{"offset":0.275,"color":"rgba(255,255,255,0)"},
{"offset":0.275,"color":"#3352e6"},{"offset":0.285,"color":"#3352e6"},{"offset":0.285,"color":"rgba(255,255,255,0)"},{"offset":0.3,"color":"rgba(255,255,255,0)"},
{"offset":0.3,"color":"#3352e6"},{"offset":0.31,"color":"#3352e6"},{"offset":0.31,"color":"rgba(255,255,255,0)"},{"offset":0.325,"color":"rgba(255,255,255,0)"},
{"offset":0.325,"color":"#3352e6"},{"offset":0.335,"color":"#3352e6"},{"offset":0.335,"color":"rgba(255,255,255,0)"},{"offset":0.35,"color":"rgba(255,255,255,0)"},
{"offset":0.35,"color":"#3352e6"},{"offset":0.36,"color":"#3352e6"},{"offset":0.36,"color":"rgba(255,255,255,0)"},{"offset":0.375,"color":"rgba(255,255,255,0)"},
{"offset":0.375,"color":"#3352e6"},{"offset":0.385,"color":"#3352e6"},{"offset":0.385,"color":"rgba(255,255,255,0)"},{"offset":0.4,"color":"rgba(255,255,255,0)"},
{"offset":0.4,"color":"#3352e6"},{"offset":0.41,"color":"#3352e6"},{"offset":0.41,"color":"rgba(255,255,255,0)"},{"offset":0.425,"color":"rgba(255,255,255,0)"},
{"offset":0.425,"color":"#3352e6"},{"offset":0.435,"color":"#3352e6"},{"offset":0.435,"color":"rgba(255,255,255,0)"},{"offset":0.45,"color":"rgba(255,255,255,0)"},
{"offset":0.45,"color":"#3352e6"},{"offset":0.46,"color":"#3352e6"},{"offset":0.46,"color":"rgba(255,255,255,0)"},{"offset":0.475,"color":"rgba(255,255,255,0)"},
{"offset":0.475,"color":"#3352e6"},{"offset":0.485,"color":"#3352e6"},{"offset":0.485,"color":"rgba(255,255,255,0)"},{"offset":0.5,"color":"rgba(255,255,255,0)"},
{"offset":0.5,"color":"#3352e6"},{"offset":0.51,"color":"#3352e6"},{"offset":0.51,"color":"rgba(255,255,255,0)"},{"offset":0.525,"color":"rgba(255,255,255,0)"},
{"offset":0.525,"color":"#3352e6"},{"offset":0.535,"color":"#3352e6"},{"offset":0.535,"color":"rgba(255,255,255,0)"},{"offset":0.55,"color":"rgba(255,255,255,0)"},
{"offset":0.55,"color":"#3352e6"},{"offset":0.56,"color":"#3352e6"},{"offset":0.56,"color":"rgba(255,255,255,0)"},{"offset":0.575,"color":"rgba(255,255,255,0)"},
{"offset":0.575,"color":"#3352e6"},{"offset":0.585,"color":"#3352e6"},{"offset":0.585,"color":"rgba(255,255,255,0)"},{"offset":0.6,"color":"rgba(255,255,255,0)"},
{"offset":0.6,"color":"#3352e6"},{"offset":0.61,"color":"#3352e6"},{"offset":0.61,"color":"rgba(255,255,255,0)"},{"offset":0.625,"color":"rgba(255,255,255,0)"},
{"offset":0.625,"color":"#3352e6"},{"offset":0.635,"color":"#3352e6"},{"offset":0.635,"color":"rgba(255,255,255,0)"},{"offset":0.65,"color":"rgba(255,255,255,0)"},
{"offset":0.65,"color":"#3352e6"},{"offset":0.66,"color":"#3352e6"},{"offset":0.66,"color":"rgba(255,255,255,0)"},{"offset":0.675,"color":"rgba(255,255,255,0)"},
{"offset":0.675,"color":"#3352e6"},{"offset":0.685,"color":"#3352e6"},{"offset":0.685,"color":"rgba(255,255,255,0)"},{"offset":0.7,"color":"rgba(255,255,255,0)"},
{"offset":0.7,"color":"#3352e6"},{"offset":0.71,"color":"#3352e6"},{"offset":0.71,"color":"rgba(255,255,255,0)"},{"offset":0.725,"color":"rgba(255,255,255,0)"},
{"offset":0.725,"color":"#3352e6"},{"offset":0.735,"color":"#3352e6"},{"offset":0.735,"color":"rgba(255,255,255,0)"},{"offset":0.75,"color":"rgba(255,255,255,0)"},
{"offset":0.75,"color":"#3352e6"},{"offset":0.76,"color":"#3352e6"},{"offset":0.76,"color":"rgba(255,255,255,0)"},{"offset":0.775,"color":"rgba(255,255,255,0)"},
{"offset":0.775,"color":"#3352e6"},{"offset":0.785,"color":"#3352e6"},{"offset":0.785,"color":"rgba(255,255,255,0)"},{"offset":0.8,"color":"rgba(255,255,255,0)"},
{"offset":0.8,"color":"#3352e6"},{"offset":0.81,"color":"#3352e6"},{"offset":0.81,"color":"rgba(255,255,255,0)"},{"offset":0.825,"color":"rgba(255,255,255,0)"},
{"offset":0.825,"color":"#3352e6"},{"offset":0.835,"color":"#3352e6"},{"offset":0.835,"color":"rgba(255,255,255,0)"},{"offset":0.85,"color":"rgba(255,255,255,0)"},
{"offset":0.85,"color":"#3352e6"},{"offset":0.86,"color":"#3352e6"},{"offset":0.86,"color":"rgba(255,255,255,0)"},{"offset":0.875,"color":"rgba(255,255,255,0)"},
{"offset":0.875,"color":"#3352e6"},{"offset":0.885,"color":"#3352e6"},{"offset":0.885,"color":"rgba(255,255,255,0)"},{"offset":0.9,"color":"rgba(255,255,255,0)"},
{"offset":0.9,"color":"#3352e6"},{"offset":0.91,"color":"#3352e6"},{"offset":0.91,"color":"rgba(255,255,255,0)"},{"offset":0.925,"color":"rgba(255,255,255,0)"},
{"offset":0.925,"color":"#3352e6"},{"offset":0.935,"color":"#3352e6"},{"offset":0.935,"color":"rgba(255,255,255,0)"},{"offset":0.95,"color":"rgba(255,255,255,0)"},
{"offset":0.95,"color":"#3352e6"},{"offset":0.96,"color":"#3352e6"},{"offset":0.96,"color":"rgba(255,255,255,0)"},{"offset":0.975,"color":"rgba(255,255,255,0)"},
{"offset":0.975,"color":"#3352e6"},{"offset":0.985,"color":"#3352e6"},{"offset":0.985,"color":"rgba(255,255,255,0)"},{"offset":1,"color":"rgba(255,255,255,0)"}]}},
"encoding": {"y": {"field": "mean", "type": "quantitative", "title": "EPR Spectrum Amplitude (a.u.)"}}},
{"mark": {"type": "tick", "size": 21, "thickness": 1.5, "color": "#333333"}, "encoding": {"y": {"field": "upper", "type": "quantitative", "title": "EPR Spectrum Amplitude (a.u.)"}}},
{"transform": [{"filter": "datum.sig != null"}], "mark": {"type": "text", "fontSize": 13, "baseline": "alphabetic", "dy": -3.5, "color": "#000000"}, "encoding": {"y": {"field": "upper", "type": "quantitative", "title": "EPR Spectrum Amplitude (a.u.)"}, "text": {"field": "sig"}}}
]
}
]
}
],
"spacing": 0,
"resolve": {"scale": {"color": "independent", "fill": "independent"}, "legend": {"color": "independent"}},
"config": {
"font": "Liberation Sans",
"view": {"stroke": null},
"axis": {"grid": false, "domainColor": "#000000", "domainWidth": 1.5, "tickColor": "#000000", "tickWidth": 1.5, "tickSize": 5, "labelColor": "#000000", "labelFontSize": 12.5, "labelPadding": 2, "titleColor": "#000000", "titleFontSize": 14, "titleFontWeight": "bold"},
"legend": {"labelFontSize": 12, "labelColor": "#000000", "symbolType": "stroke", "symbolStrokeWidth": 2, "symbolSize": 120, "rowPadding": 3, "labelOffset": 6},
"title": {"color": "#000000", "fontWeight": "normal", "font": "Liberation Sans"}
}
}
